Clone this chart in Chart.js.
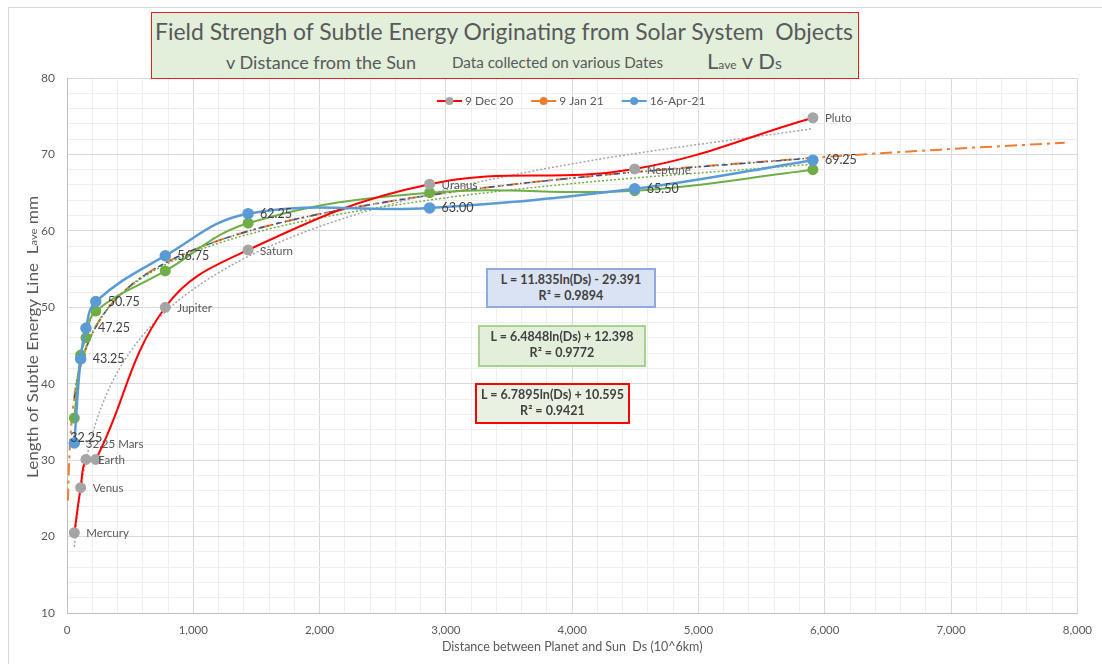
<!DOCTYPE html>
<html>
<head>
<meta charset="utf-8">
<script src="https://cdn.jsdelivr.net/npm/chart.js@4.4.1/dist/chart.umd.min.js"></script>
<style>
  html,body{margin:0;padding:0;background:#fff;}
  #wrap{position:relative;width:1102px;height:664px;overflow:hidden;font-family:Lato,"Open Sans",sans-serif;}
  #frame{position:absolute;left:8px;top:7px;width:1200px;height:700px;border-left:1px solid #d9d9d9;border-top:1px solid #d9d9d9;}
  canvas{position:absolute;left:0;top:0;}
  .box{position:absolute;box-sizing:border-box;}
  .t{position:absolute;white-space:nowrap;color:#595959;transform-origin:0 50%;line-height:1;}
  .eq{position:absolute;box-sizing:border-box;border:2px solid;text-align:center;font-weight:bold;color:#404040;font-size:12.5px;line-height:16px;padding-top:2px;}
</style>
</head>
<body>
<div id="wrap">
  <div id="frame"></div>
  <canvas id="c" width="1102" height="664"></canvas>
  <div class="box" style="left:151px;top:12px;width:708px;height:67px;background:#e2efda;border:1.5px solid #e0201c;"></div>
  <span class="t" data-w="698" style="left:155px;top:20px;font-size:23px;">Field Strengh of Subtle Energy Originating from Solar System&nbsp; Objects</span>
  <span class="t" data-w="190" style="left:226px;top:54px;font-size:17px;">v Distance from the Sun</span>
  <span class="t" data-w="211" style="left:452px;top:56px;font-size:14.5px;">Data collected on various Dates</span>
  <span class="t" data-w="75" style="left:707px;top:50px;font-size:22px;">L<span style="font-size:12px;">ave</span> v D<span style="font-size:16px;">s</span></span>

  <div class="eq" style="left:486px;top:268px;width:170px;height:40px;background:#dae3f3;border-color:#8faadc;">L = 11.835ln(Ds) - 29.391<br>R² = 0.9894</div>
  <div class="eq" style="left:478px;top:325px;width:168px;height:42px;background:#e2efda;border-color:#a9d18e;">L = 6.4848ln(Ds) + 12.398<br>R² = 0.9772</div>
  <div class="eq" style="left:475px;top:383px;width:155px;height:41px;background:#e9f1e3;border-color:#ff0000;">L = 6.7895ln(Ds) + 10.595<br>R² = 0.9421</div>
</div>
<script>
// ---- data ----
const distances = [58, 108, 150, 228, 778, 1434, 2871, 4495, 5906];
const planetNames = ["Mercury", "Venus", "Earth", "32.25 Mars", "Jupiter", "Saturn", "Uranus", "Neptune", "Pluto"];
const dec20 = [20.5, 26.4, 30.1, 30.1, 50.0, 57.5, 66.1, 68.1, 74.8];
const jan21 = [35.5, 43.75, 46.0, 49.5, 54.75, 61.0, 65.0, 65.25, 68.0];
const apr21 = [32.25, 43.25, 47.25, 50.75, 56.75, 62.25, 63.0, 65.5, 69.25];
const apr21Labels = ["32.25", "43.25", "47.25", "50.75", "56.75", "62.25", "63.00", "65.50", "69.25"];
const seriesNames = ["9 Dec 20", "9 Jan 21", "16-Apr-21"];

// trendlines
const trendX = [58, 80, 110, 150, 220, 330, 500, 778, 1200, 1800, 2871, 4000, 5906];
const trendDec20 = [18.66, 22.47, 26.24, 29.91, 34.44, 39.24, 44.16, 49.39, 54.52, 59.32, 64.84, 68.77, 73.38];
const trendApr21 = [38.16, 40.35, 42.51, 44.61, 47.21, 49.97, 52.79, 55.79, 58.73, 61.49, 64.66, 66.91, 69.55];
const trendJan21 = [38.73, 40.81, 42.88, 44.89, 47.37, 50.00, 52.70, 55.57, 58.38, 61.01, 64.03, 66.18, 68.71];
const forecastX = [8, 15, 30, 58, 80, 110, 150, 220, 330, 500, 778, 1200, 1800, 2871, 4000, 5906, 7000, 7900];
const forecastY = [24.71, 28.98, 33.69, 38.16, 40.35, 42.51, 44.61, 47.21, 49.97, 52.79, 55.79, 58.73, 61.49, 64.66, 66.91, 69.55, 70.71, 71.53];

const xTicks = [0, 1000, 2000, 3000, 4000, 5000, 6000, 7000, 8000];
const yTicks = [10, 20, 30, 40, 50, 60, 70, 80];

// ---- fit title text widths ----
document.querySelectorAll('.t[data-w]').forEach(el => {
  const w = el.getBoundingClientRect().width;
  const target = +el.dataset.w;
  el.style.transform = 'scaleX(' + (target / w) + ')';
});

const pts = (xs, ys) => xs.map((x, i) => ({x: x, y: ys[i]}));

Chart.defaults.font.family = 'Lato, "Open Sans", sans-serif';
Chart.defaults.color = '#595959';

const FONT = 'Lato, "Open Sans", sans-serif';

const legendColors = [
  {line: '#ff0000', marker: '#a5a5a5'},
  {line: '#ed7d31', marker: '#ed7d31'},
  {line: '#5b9bd5', marker: '#5b9bd5'}
];

const decor = {
  id: 'decor',
  afterDraw(chart) {
    const ctx = chart.ctx;
    const xs = chart.scales.x, ys = chart.scales.y;
    ctx.save();
    // value labels (blue series)
    ctx.font = '12.5px ' + FONT;
    ctx.fillStyle = '#404040';
    ctx.textBaseline = 'middle';
    ctx.textAlign = 'left';
    apr21Labels.forEach((t, i) => {
      const px = xs.getPixelForValue(distances[i]);
      const py = ys.getPixelForValue(apr21[i]);
      let dx = 12, dy = 0;
      if (i === 0) { dx = -4; dy = -5; }
      ctx.fillText(t, px + dx, py + dy);
    });
    // planet labels (red series)
    ctx.font = '11.5px ' + FONT;
    ctx.fillStyle = '#595959';
    planetNames.forEach((t, i) => {
      const px = xs.getPixelForValue(distances[i]);
      const py = ys.getPixelForValue(dec20[i]);
      let dx = 12, dy = 1;
      if (i === 3) { dx = -10; dy = -15; }
      ctx.fillText(t, px + dx, py + dy);
    });
    // legend
    ctx.font = '12px ' + FONT;
    let x = 437;
    const ly = 101;
    seriesNames.forEach((name, i) => {
      ctx.strokeStyle = legendColors[i].line;
      ctx.lineWidth = 2;
      ctx.beginPath(); ctx.moveTo(x, ly); ctx.lineTo(x + 25, ly); ctx.stroke();
      ctx.fillStyle = legendColors[i].marker;
      ctx.beginPath(); ctx.arc(x + 12.5, ly, 4, 0, Math.PI * 2); ctx.fill();
      ctx.fillStyle = '#595959';
      ctx.fillText(name, x + 28, ly + 0.5);
      x += 28 + ctx.measureText(name).width + 18;
    });
    // y axis title with subscript
    const parts = [
      {t: 'Length of Subtle Energy Line  ', f: '14.5px ' + FONT, dy: 0},
      {t: 'L', f: '14.5px ' + FONT, dy: 0},
      {t: 'ave', f: '9.5px ' + FONT, dy: 1},
      {t: ' mm', f: '14.5px ' + FONT, dy: 0}
    ];
    let total = 0;
    parts.forEach(p => { ctx.font = p.f; p.w = ctx.measureText(p.t).width; total += p.w; });
    ctx.translate(33, 337);
    ctx.rotate(-Math.PI / 2);
    const k = 282 / total;
    ctx.scale(k, 1);
    let sx = -total / 2;
    ctx.fillStyle = '#595959';
    parts.forEach(p => { ctx.font = p.f; ctx.fillText(p.t, sx, p.dy); sx += p.w; });
    ctx.restore();
  }
};

new Chart(document.getElementById('c'), {
  type: 'line',
  data: {
    datasets: [
      {label: seriesNames[2], data: pts(distances, apr21), borderColor: '#5b9bd5', backgroundColor: '#5b9bd5',
       pointBackgroundColor: '#5b9bd5', pointBorderColor: '#5b9bd5', borderWidth: 2.5, pointRadius: 4.5, tension: 0.4},
      {label: seriesNames[0], data: pts(distances, dec20), borderColor: '#ff0000', backgroundColor: '#a5a5a5',
       pointBackgroundColor: '#a5a5a5', pointBorderColor: '#a5a5a5', borderWidth: 2, pointRadius: 4.5, tension: 0.4},
      {label: seriesNames[1], data: pts(distances, jan21), borderColor: '#70ad47', backgroundColor: '#70ad47',
       pointBackgroundColor: '#70ad47', pointBorderColor: '#70ad47', borderWidth: 2, pointRadius: 4.5, tension: 0.4},
      {label: 'trend Dec', data: pts(trendX, trendDec20), borderColor: '#a5a5a5', borderWidth: 1.5, borderDash: [2, 2],
       pointRadius: 0, cubicInterpolationMode: 'monotone'},
      {label: 'trend Jan', data: pts(trendX, trendJan21), borderColor: '#70ad47', borderWidth: 1.5, borderDash: [2, 2],
       pointRadius: 0, cubicInterpolationMode: 'monotone'},
      {label: 'trend Apr', data: pts(trendX, trendApr21), borderColor: '#2f5597', borderWidth: 1.5, borderDash: [6, 3, 1.5, 3, 1.5, 3],
       pointRadius: 0, cubicInterpolationMode: 'monotone'},
      {label: 'forecast', data: pts(forecastX, forecastY), borderColor: '#ed7d31', borderWidth: 2, borderDash: [12, 5, 3, 5],
       pointRadius: 0, cubicInterpolationMode: 'monotone'}
    ]
  },
  options: {
    responsive: false,
    animation: false,
    events: [],
    layout: {padding: {top: 78, right: 24, left: 0, bottom: 0}},
    plugins: {legend: {display: false}, title: {display: false}, tooltip: {enabled: false}},
    scales: {
      x: {
        type: 'linear', min: 0, max: 8000,
        afterFit(s) { s.height = 51; },
        ticks: {stepSize: 200, padding: 10, autoSkip: false, maxRotation: 0, color: '#595959', font: {size: 11.5},
          callback: v => (xTicks.includes(v) ? v.toLocaleString('en-US') : '')},
        grid: {drawTicks: false, color: c => (xTicks.includes(c.tick.value) ? '#d9d9d9' : '#eeeeee'), lineWidth: 1},
        border: {color: '#bfbfbf'},
        title: {display: true, text: 'Distance between Planet and Sun  Ds (10^6km)', color: '#595959', font: {size: 12.5}, padding: {top: 0, bottom: 10}}
      },
      y: {
        min: 10, max: 80,
        afterFit(s) { s.width = 67; },
        ticks: {stepSize: 2, padding: 12, autoSkip: false, color: '#595959', font: {size: 12},
          callback: v => (yTicks.includes(v) ? String(v) : '')},
        grid: {drawTicks: false, color: c => (yTicks.includes(c.tick.value) ? '#d9d9d9' : '#eeeeee'), lineWidth: 1},
        border: {color: '#bfbfbf'}
      }
    }
  },
  plugins: [decor]
});
</script>
</body>
</html>
